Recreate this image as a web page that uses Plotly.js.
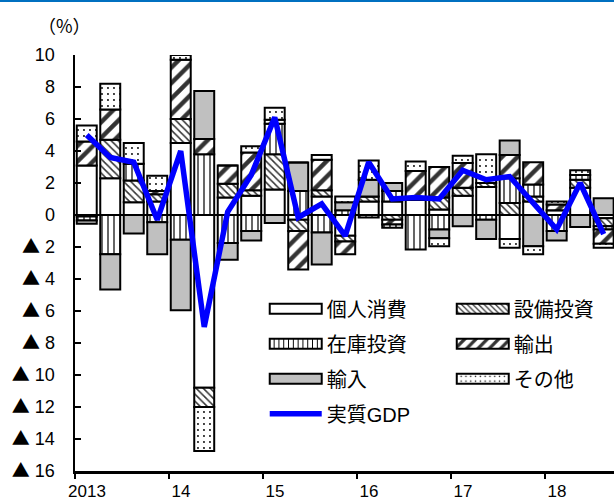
<!DOCTYPE html>
<html>
<head>
<meta charset="utf-8">
<script src="https://cdn.plot.ly/plotly-3.0.1.min.js"></script>
<style>
  html, body { margin: 0; padding: 0; background: #fff; }
  #chart { width: 614px; height: 501px; }
</style>
</head>
<body>
<div id="chart"></div>
<script>
// Quarterly contributions to real GDP growth (annualised, %), 2013Q1-2018Q3
const quarters = ['2013Q1','2013Q2','2013Q3','2013Q4','2014Q1','2014Q2','2014Q3','2014Q4',
                  '2015Q1','2015Q2','2015Q3','2015Q4','2016Q1','2016Q2','2016Q3','2016Q4',
                  '2017Q1','2017Q2','2017Q3','2017Q4','2018Q1','2018Q2','2018Q3'];

const consumption = [3.1, 2.3, 0.8, 0.85, 4.5, -10.8, 1.1, 1.2, 1.6, -0.3, 1.15, -1.3,
                     0.85, 0.85, 0.95, 0.35, 1.2, 1.75, -1.5, 0.85, 0.3, 1.7, -0.2];
const capex       = [-0.1, 2.4, 1.35, 0.45, 1.5, -1.2, 0.85, 0.35, 2.2, -0.7, 0.4, -0.35,
                     0.3, -0.3, 0, 0.75, 0.5, 0.25, 0.75, 0.3, 0, 0.5, -0.5];
const inventory   = [-0.25, -2.45, 1.05, -0.45, -1.55, 3.8, -1.75, -1.0, 1.9, 1.5, -1.1, 0.3,
                     -0.15, 0.65, -2.15, -0.9, 0, -0.3, 1.55, 0.75, -1.0, 0.3, -0.2];
const exportsC    = [1.5, 1.9, 0, 0.2, 3.7, 0.95, 1.15, 2.35, 0.25, -2.4, 1.9, -0.8,
                     0, -0.3, 1.8, 1.9, 1.55, 0, 1.45, 1.4, 0.35, 0, -0.9];
const importsC    = [-0.2, -2.2, -1.15, -2.0, -4.4, 3.0, -1.05, -0.6, -0.5, 1.78, -2.0, 0.5,
                     1.05, 0.5, 0, -0.55, -0.7, -1.2, 0.9, -1.95, -0.6, -0.75, 1.05];
const others      = [1.0, 1.6, 1.3, 0.95, 0.3, -2.75, 0, 0.4, 0.75, 0, 0.3, 0.35,
                     1.2, -0.2, 0.6, -0.5, 0.45, 1.8, -0.55, -0.5, 0.2, 0.3, -0.25];
const realGDP     = [5.0, 3.6, 3.3, -0.3, 4.0, -7.0, 0.2, 2.5, 6.1, -0.15, 0.7, -1.3,
                     3.3, 1.0, 1.1, 1.0, 2.8, 2.2, 2.4, 0.8, -0.9, 2.0, -1.2];

const yearLabels = ['2013', '14', '15', '16', '17', '18'];
const yTickValues = [-16, -14, -12, -10, -8, -6, -4, -2, 0, 2, 4, 6, 8, 10];
// negative values are written with a leading triangle mark
const yTickLabels = yTickValues.map(v => v < 0
  ? '<span style="font-family:Noto Sans CJK JP">▲</span> ' + (-v)
  : String(v));

const xIdx = quarters.map((q, i) => i);
const yearTickPos = yearLabels.map((y, i) => i * 4 - 0.5);

const JP = 'Liberation Sans, Arial, Noto Sans CJK JP, sans-serif';
const edge = { color: '#000', width: 2 };

function barTrace(name, values, fill, pattern, legendId) {
  const t = {
    type: 'bar', name: name, x: xIdx, y: values,
    legend: legendId, legendgroup: name,
    marker: { color: fill, line: edge },
    hoverinfo: 'skip'
  };
  if (pattern) t.marker.pattern = Object.assign({ fillmode: 'replace', bgcolor: '#fff' }, pattern);
  return t;
}

const traces = [
  barTrace('個人消費', consumption, '#fff', null, 'legend'),
  barTrace('設備投資', capex, '#fff', { shape: '\\', size: 5, solidity: 0.3, fgcolor: '#333' }, 'legend2'),
  barTrace('在庫投資', inventory, '#fff', { shape: '|', size: 6, solidity: 0.2, fgcolor: '#000' }, 'legend'),
  barTrace('輸出', exportsC, '#fff', { shape: '/', size: 11, solidity: 0.4, fgcolor: '#333' }, 'legend2'),
  barTrace('輸入', importsC, '#c0c0c0', null, 'legend'),
  barTrace('その他', others, '#fff', { shape: '.', size: 6, solidity: 0.08, fgcolor: '#000' }, 'legend2'),
  {
    type: 'scatter', mode: 'lines', name: '実質GDP', x: xIdx, y: realGDP,
    legend: 'legend', legendgroup: '実質GDP',
    line: { color: '#0000ff', width: 5.5 }, hoverinfo: 'skip'
  }
];

const legendBase = {
  xanchor: 'left', yanchor: 'top', bgcolor: 'rgba(0,0,0,0)', borderwidth: 0,
  font: { family: JP, size: 20, color: '#000' },
  itemwidth: 52, tracegroupgap: 6, traceorder: 'grouped'
};

const layout = {
  width: 614, height: 501,
  margin: { l: 75, r: 0, t: 55, b: 30 },
  paper_bgcolor: '#fff', plot_bgcolor: '#fff',
  barmode: 'relative', bargap: 0.15,
  font: { family: JP, size: 18, color: '#000' },
  showlegend: true,
  legend: Object.assign({ x: 0.352, y: 0.437 }, legendBase),
  legend2: Object.assign({ x: 0.699, y: 0.437 }, legendBase),
  xaxis: {
    range: [-0.5, 22.44], tickmode: 'array', tickvals: yearTickPos, ticktext: yearLabels,
    ticks: 'outside', ticklen: 5, tickwidth: 2, tickcolor: '#000',
    showline: true, linecolor: '#000', linewidth: 2.5,
    showgrid: false, zeroline: false, automargin: false,
    ticklabelshift: 12, ticklabelstandoff: -2, tickfont: { size: 17 }
  },
  yaxis: {
    range: [-16, 10], tickmode: 'array', tickvals: yTickValues, ticktext: yTickLabels,
    ticks: 'inside', ticklen: 6, tickwidth: 2, tickcolor: '#000',
    showline: true, linecolor: '#000', linewidth: 2.5,
    showgrid: false, zeroline: true, zerolinecolor: '#000', zerolinewidth: 2,
    automargin: false, ticklabelstandoff: 14, tickfont: { size: 18 }
  },
  annotations: [{
    text: '（%）', xref: 'paper', yref: 'paper', x: -0.019, y: 1.072,
    xanchor: 'center', yanchor: 'middle', showarrow: false,
    font: { family: 'Noto Sans CJK JP, sans-serif', size: 18 }
  }],
  shapes: [{
    type: 'line', xref: 'paper', yref: 'paper',
    x0: -0.15, x1: 1.01, y0: 1.1298, y1: 1.1298,
    line: { color: '#0070c0', width: 2 }
  }]
};

Plotly.newPlot('chart', traces, layout, { staticPlot: true }).then(gd => {
  // widen the bar swatches in both legends to long flat boxes
  gd.querySelectorAll('.legendpoints path').forEach(p => {
    const d = p.getAttribute('d') || '';
    if (d.indexOf('M6,6H-6V-6H6Z') >= 0) p.setAttribute('d', 'M26,5H-26V-5H26Z');
  });
});
</script>
</body>
</html>
